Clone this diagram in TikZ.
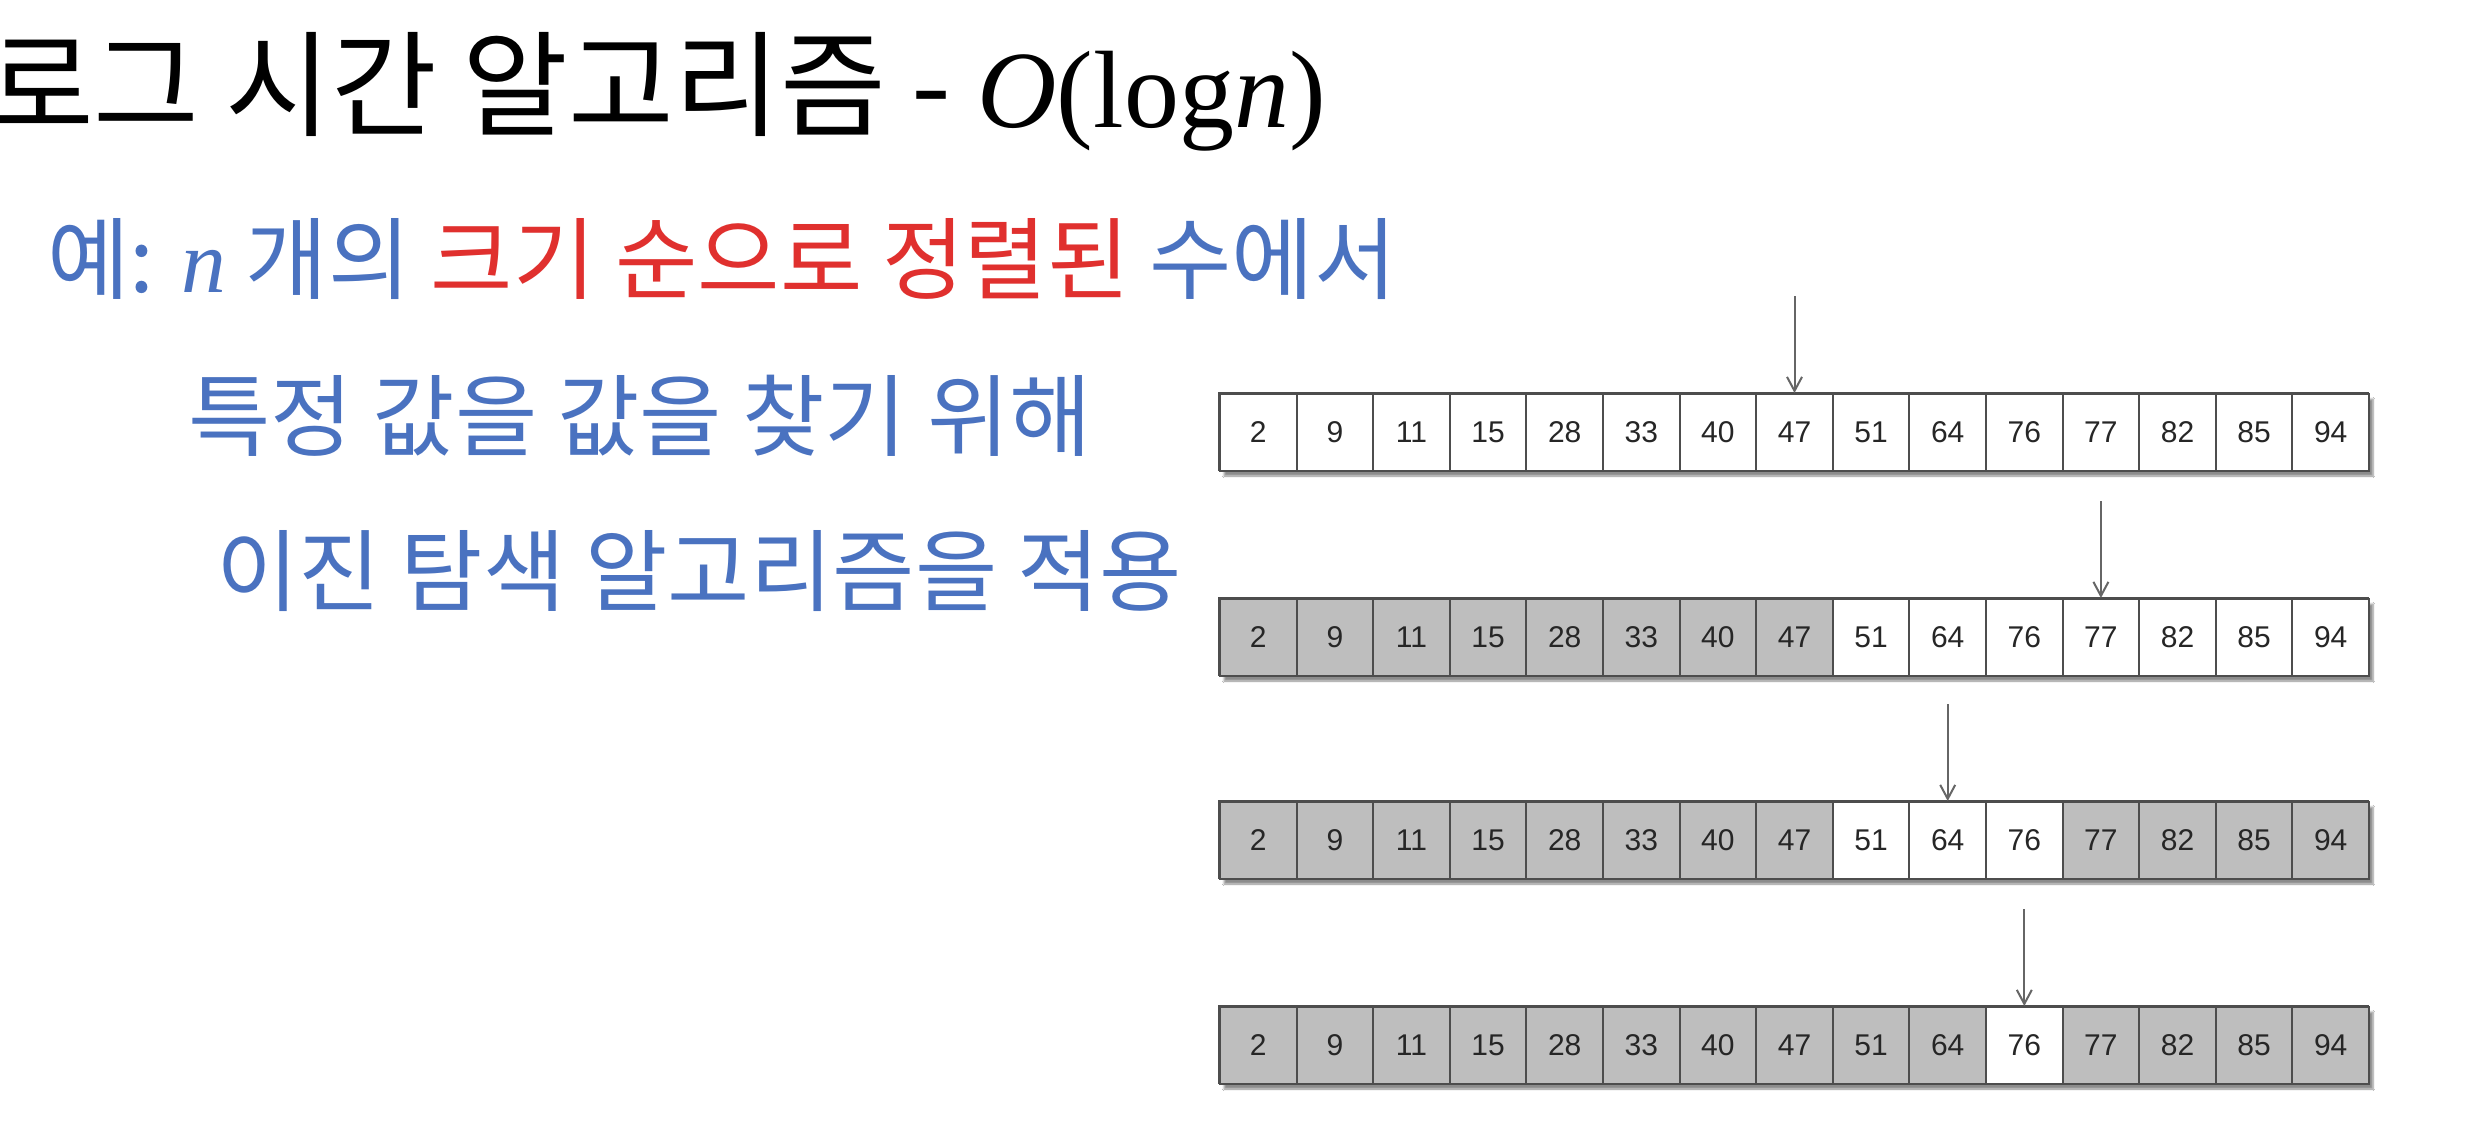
\documentclass[tikz,border=0pt]{standalone}
\usepackage{fontspec}
\setmainfont{Liberation Serif}
\newfontfamily\kofont{Noto Sans CJK KR}
\newfontfamily\numfont{Liberation Sans}
\usetikzlibrary{arrows.meta,shadows.blur}
\definecolor{slideblue}{HTML}{4A72C0}
\definecolor{slidered}{HTML}{E0302E}
\definecolor{cellgray}{HTML}{BEBEBE}
\definecolor{cellline}{HTML}{4D4D4D}
\tikzset{
  cell/.style={draw=cellline, line width=2pt, minimum width=76.6pt, minimum height=77pt,
    inner sep=0pt, anchor=north west, text=black!85, font=\numfont\fontsize{30}{30}\selectfont},
  rowbox/.style={draw=cellline, line width=2pt, fill=white,
    blur shadow={shadow xshift=5pt, shadow yshift=-6pt, shadow blur steps=6, shadow opacity=45}},
  pointer/.style={draw=black!60, line width=2pt, -{Straight Barb[length=14pt,width=15pt]}},
  kor/.style={anchor=base west, inner sep=0pt, font=\kofont\fontsize{89.5}{92}\selectfont},
}
\begin{document}
\begin{tikzpicture}[x=1pt,y=-1pt]
\fill[white] (0,0) rectangle (2468,1142);
\useasboundingbox (0,0) rectangle (2468,1142);
\node [kor, font=\kofont\fontsize{115}{115}\selectfont] (title) at (-12,128)
  {로그 시간 알고리즘 - {\rmfamily\fontsize{110}{110}\selectfont\textit{O}(log\textit{n})}};
\node [kor, text=slideblue] (ex) at (47,292)
  {예: {\rmfamily\itshape n} 개의 \textcolor{slidered}{크기 순으로 정렬된} 수에서};
\node [kor, text=slideblue] (goal) at (188,449) {특정 값을 값을 찾기 위해};
\node [kor, text=slideblue] (apply) at (216,604) {이진 탐색 알고리즘을 적용};
\foreach \r/\top/\lo/\hi/\tgt in {1/393/0/14/7, 2/598/8/14/11, 3/801/8/10/9, 4/1006/10/10/10}{
  \draw [rowbox] (1219,\top) rectangle ++(1149,77);
  \foreach \v [count=\i from 0] in {2,9,11,15,28,33,40,47,51,64,76,77,82,85,94}{
    \pgfmathtruncatemacro\isw{(\i>=\lo)&&(\i<=\hi)}
    \ifnum\isw=1 \def\cf{white}\else\def\cf{cellgray}\fi
    \node [cell, fill=\cf] (r\r-\i) at (1219+76.6*\i,\top) {\v};
  }
  \coordinate (p\r) at ([yshift=97pt]r\r-\tgt.north);
  \draw [pointer] (p\r) -- (r\r-\tgt.north);
}
\end{tikzpicture}
\end{document}
